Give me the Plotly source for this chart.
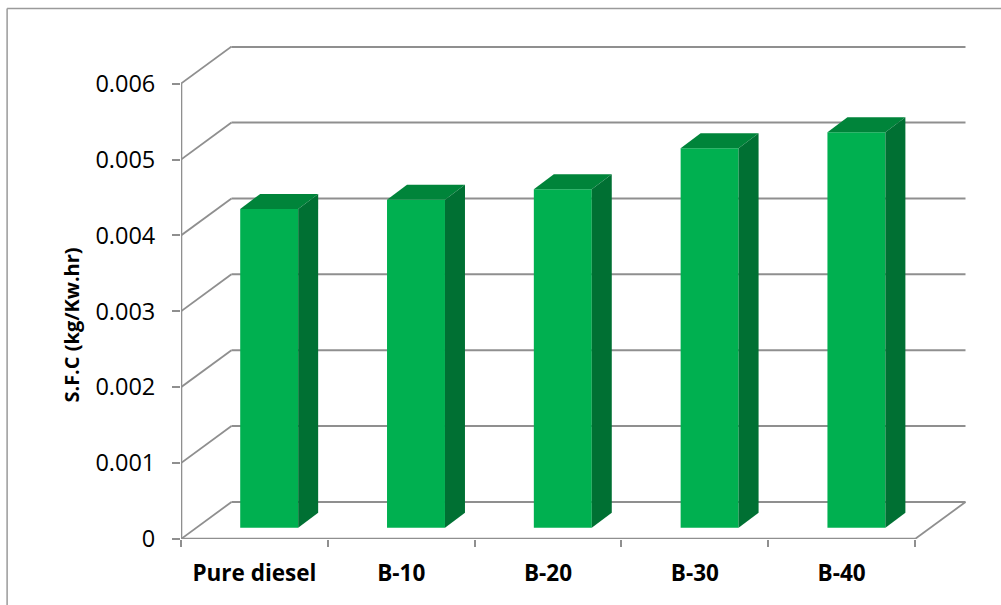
import plotly.graph_objects as go

categories = ["Pure diesel", "B-10", "B-20", "B-30", "B-40"]
sfc_values = [0.0042, 0.00432, 0.00446, 0.0050, 0.00521]
y_ticks = [0, 0.001, 0.002, 0.003, 0.004, 0.005, 0.006]
y_tick_labels = ["0", "0.001", "0.002", "0.003", "0.004", "0.005", "0.006"]
y_title = "S.F.C (kg/Kw.hr)"

W, H = 1001, 605
L, R, T, B = 180.5, 966.0, 46.0, 539.0
PX_X = 146.9          # pixels per category
PX_Y = 75900.0        # pixels per unit of S.F.C
X0 = -0.5
XMAX = X0 + (R - L) / PX_X
YMAX = (B - T) / PX_Y

WALL_DX, WALL_DY = 50.5 / PX_X, 37.0 / PX_Y
BAR_W = 58.0 / PX_X
BAR_SHIFT, BAR_LIFT = 14.8 / PX_X, 11.3 / PX_Y
BAR_DX, BAR_DY = 20.0 / PX_X, 15.0 / PX_Y

GRID = "#8f8f8f"
FRONT, TOP, SIDE = "#00b050", "#00843a", "#007033"
FONT = "Open Sans"

xs = list(range(len(categories)))
boundaries = [i - 0.5 for i in range(len(categories) + 1)]
x_end = boundaries[-1]

fig = go.Figure()

# front faces
fig.add_trace(go.Bar(
    x=[i + BAR_SHIFT for i in xs], y=sfc_values, base=[BAR_LIFT] * len(xs),
    width=BAR_W, marker=dict(color=FRONT, line=dict(width=0)),
    cliponaxis=False, hoverinfo="skip", showlegend=False))

# top and side faces
for i, v in zip(xs, sfc_values):
    x1 = i + BAR_SHIFT - BAR_W / 2
    x2 = i + BAR_SHIFT + BAR_W / 2
    y0, y1 = BAR_LIFT, BAR_LIFT + v
    fig.add_trace(go.Scatter(
        x=[x1, x2, x2 + BAR_DX, x1 + BAR_DX, x1],
        y=[y1, y1, y1 + BAR_DY, y1 + BAR_DY, y1],
        mode="lines", fill="toself", fillcolor=TOP, line=dict(width=0),
        cliponaxis=False, hoverinfo="skip", showlegend=False))
    fig.add_trace(go.Scatter(
        x=[x2, x2 + BAR_DX, x2 + BAR_DX, x2, x2],
        y=[y0, y0 + BAR_DY, y1 + BAR_DY, y1, y0],
        mode="lines", fill="toself", fillcolor=SIDE, line=dict(width=0),
        cliponaxis=False, hoverinfo="skip", showlegend=False))

# carrier for the secondary axis with the boundary tick marks
fig.add_trace(go.Scatter(x=boundaries, y=[0] * len(boundaries), xaxis="x2",
                         mode="lines", line=dict(width=0), cliponaxis=False,
                         hoverinfo="skip", showlegend=False))

shapes = []
def seg(x0, y0, x1, y1, width=1.5, color=GRID):
    shapes.append(dict(type="line", xref="x", yref="y", x0=x0, y0=y0, x1=x1, y1=y1,
                       layer="below", line=dict(color=color, width=width)))

for t in y_ticks:
    w = 2.6 if t == y_ticks[-1] else 2.0
    seg(X0, t, X0 + WALL_DX, t + WALL_DY, 1.8)
    seg(X0 + WALL_DX, t + WALL_DY, x_end + WALL_DX, t + WALL_DY, w)
seg(X0, 0, X0, y_ticks[-1], 2.6)
seg(X0, 0, x_end, 0, 2.6)
seg(x_end, 0, x_end + WALL_DX, WALL_DY, 1.8)
# chart border
for x0, y0, x1, y1 in [(6.5, 8.5, W, 8.5), (6.5, 8.5, 6.5, H)]:
    shapes.append(dict(type="line", xref="paper", yref="paper",
                       x0=(x0 - L) / (R - L), x1=(x1 - L) / (R - L),
                       y0=(B - y0) / (B - T), y1=(B - y1) / (B - T),
                       layer="below", line=dict(color="#9a9a9a", width=1.5)))

fig.update_layout(
    width=W, height=H, autosize=False,
    margin=dict(l=L, r=W - R, t=T, b=H - B, pad=0),
    paper_bgcolor="white", plot_bgcolor="white",
    showlegend=False, shapes=shapes, hovermode=False,
    xaxis=dict(range=[X0, XMAX], tickmode="array", tickvals=xs, ticktext=categories,
               ticks="", showgrid=False, zeroline=False, showline=False,
               tickfont=dict(family=FONT, size=22.5, color="black", weight="bold"),
               ticklabelstandoff=18),
    xaxis2=dict(range=[X0, XMAX], overlaying="x", anchor="y", side="bottom",
                tickmode="array", tickvals=boundaries, ticktext=[""] * len(boundaries),
                ticks="outside", ticklen=7, tickwidth=1.5, tickcolor=GRID,
                showgrid=False, zeroline=False, showline=False),
    yaxis=dict(range=[0, YMAX], tickmode="array", tickvals=y_ticks, ticktext=y_tick_labels,
               ticks="outside", ticklen=8, tickwidth=1.5, tickcolor=GRID,
               showgrid=False, zeroline=False, showline=False,
               tickfont=dict(family=FONT, size=23.5, color="black"),
               ticklabelstandoff=12),
    annotations=[dict(text=y_title, textangle=-90, showarrow=False,
                      xref="paper", yref="paper", xanchor="center", yanchor="middle",
                      x=(70 - L) / (R - L), y=(B - 325) / (B - T),
                      font=dict(family=FONT, size=20, color="black", weight="bold"))],
)

fig.write_html("out.html", config={"displayModeBar": False},
               post_script="document.body.style.margin='0';document.body.style.overflow='hidden';")
